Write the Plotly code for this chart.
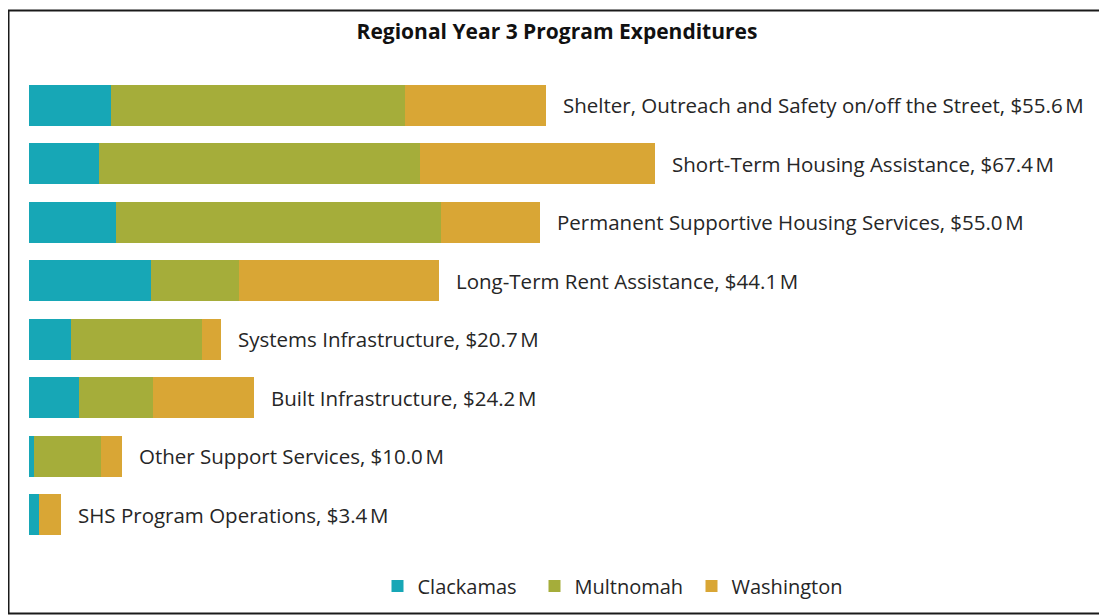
import plotly.graph_objects as go

categories = [
    "Shelter, Outreach and Safety on/off the Street",
    "Short-Term Housing Assistance",
    "Permanent Supportive Housing Services",
    "Long-Term Rent Assistance",
    "Systems Infrastructure",
    "Built Infrastructure",
    "Other Support Services",
    "SHS Program Operations",
]
clackamas = [8.87, 7.57, 9.33, 13.09, 4.56, 5.38, 0.58, 1.04]
multnomah = [31.55, 34.54, 34.97, 9.55, 14.10, 7.93, 7.21, 0.00]
washington = [15.18, 25.29, 10.70, 21.46, 2.04, 10.89, 2.21, 2.36]
series_names = ["Clackamas", "Multnomah", "Washington"]
colors = ["#17A7B6", "#A5AD3A", "#D9A635"]

OFF = 8  # page body margin
W, H = 1107 - OFF, 616 - OFF
ML, MR, MT, MB = 29 - OFF, 0, 76 - OFF, 72
PW, PH = W - ML - MR, H - MT - MB
PX_PER_M = 9.294
FONT = "Open Sans"

fig = go.Figure()
for name, vals, col in zip(series_names, [clackamas, multnomah, washington], colors):
    fig.add_trace(go.Bar(
        y=categories, x=vals, name=name, orientation="h",
        marker=dict(color=col, line=dict(width=0)),
        hoverinfo="x+y+name",
    ))

totals = [round(a + b + c, 1) for a, b, c in zip(clackamas, multnomah, washington)]
for cat, tot in zip(categories, totals):
    fig.add_annotation(
        x=tot, y=cat, xref="x", yref="y",
        text=f"{cat}, ${tot:.1f}\u202fM", showarrow=False,
        xanchor="left", yanchor="middle", xshift=15,
        font=dict(family=FONT, size=20.5, color="#262626"),
    )


def px2x(px):
    return (px - OFF - ML) / PW


def py2y(py):
    return 1 - (py - OFF - MT) / PH


fig.add_shape(type="rect", xref="paper", yref="paper",
              x0=px2x(8.5), x1=px2x(1103), y0=py2y(613.5), y1=py2y(10.5),
              line=dict(color="#1a1a1a", width=2), fillcolor="rgba(0,0,0,0)",
              layer="below")

fig.update_layout(
    width=W, height=H,
    margin=dict(l=ML, r=MR, t=MT, b=MB),
    barmode="stack", bargap=0.30,
    paper_bgcolor="white", plot_bgcolor="white",
    title=dict(text="<b>Regional Year 3 Program Expenditures</b>",
               x=(557 - OFF) / W, xanchor="center", xref="container",
               y=1 - (32 - OFF) / H, yanchor="middle", yref="container",
               font=dict(family=FONT, size=21, color="#111111")),
    xaxis=dict(range=[0, PW / PX_PER_M], visible=False, fixedrange=True),
    yaxis=dict(autorange="reversed", visible=False, fixedrange=True),
    showlegend=True,
    legend=dict(orientation="h", x=px2x(613), xanchor="center",
                y=py2y(586), yanchor="middle",
                font=dict(family=FONT, size=20, color="#262626"),
                traceorder="normal", itemwidth=30,
                entrywidth=112, entrywidthmode="pixels",
                bgcolor="rgba(0,0,0,0)"),
    font=dict(family=FONT),
)

fig.write_html("out.html")
